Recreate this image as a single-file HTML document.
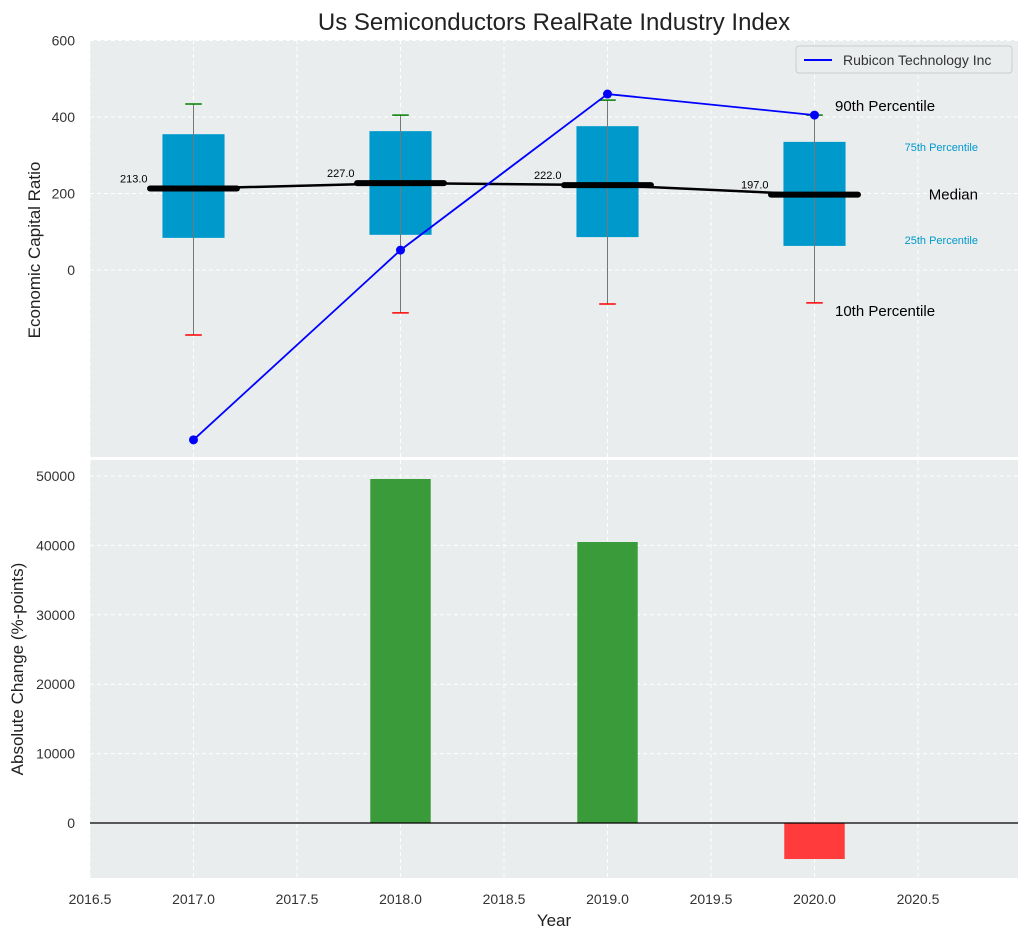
<!DOCTYPE html>
<html><head><meta charset="utf-8"><style>
body{margin:0;background:#fff;font-family:"Liberation Sans",sans-serif}
svg text{font-family:"Liberation Sans",sans-serif}
</style></head><body>
<svg id="c" width="1029" height="940"></svg>
<script>
const years=[2017,2018,2019,2020];
const p10=[-170,-112,-89,-86];
const p25=[84,92,86,63];
const medians=[213,227,222,197];
const p75=[355,363,376,335];
const p90=[434,405,444,405];
const rubicon=[-444,52,460,405];
const changes=[0,49570,40490,-5190];
const xTicks=[2016.5,2017,2017.5,2018,2018.5,2019,2019.5,2020,2020.5];
const yTopTicks=[0,200,400,600];
const yBotTicks=[0,10000,20000,30000,40000,50000];

const svg=document.getElementById('c');
const NS='http://www.w3.org/2000/svg';
function el(t,a,p){const e=document.createElementNS(NS,t);for(const k in a)e.setAttribute(k,a[k]);(p||svg).appendChild(e);return e;}
const L=90,R=1018;
const x=v=>L+(v-2016.5)*207;
const yT=v=>270-v*0.3825;
const yB=v=>823-v*0.00694;
const T0=40,T1=457,B0=460,B1=878;

let e=el('rect',{x:L,y:T0,width:R-L,height:T1-T0,fill:'#eaedee'});

e=el('rect',{x:L,y:B0,width:R-L,height:B1-B0,fill:'#eaedee'});


xTicks.forEach(t=>{
  el('line',{x1:x(t),x2:x(t),y1:T0,y2:T1,stroke:'#fff','stroke-dasharray':'4,3'});
  el('line',{x1:x(t),x2:x(t),y1:B0,y2:B1,stroke:'#fff','stroke-dasharray':'4,3'});
  const tx=el('text',{x:x(t),y:904,'text-anchor':'middle','font-size':14,fill:'#333'});tx.textContent=t.toFixed(1);
  
});
yTopTicks.forEach(t=>{
  el('line',{x1:L,x2:R,y1:yT(t),y2:yT(t),stroke:'#fff','stroke-dasharray':'4,3'});
  const tx=el('text',{x:75,y:yT(t)+5,'text-anchor':'end','font-size':14,fill:'#333'});tx.textContent=t;
  
});
yBotTicks.forEach(t=>{
  el('line',{x1:L,x2:R,y1:yB(t),y2:yB(t),stroke:'#fff','stroke-dasharray':'4,3'});
  const tx=el('text',{x:75,y:yB(t)+5,'text-anchor':'end','font-size':14,fill:'#333'});tx.textContent=t;
  
});
el('line',{x1:L,x2:R,y1:458.5,y2:458.5,stroke:'#fff','stroke-width':2});

const hw=0.15*207, mw=0.21*207, cw=0.04*207;
years.forEach((yr,i)=>{
  const cx=x(yr);
  let r=el('rect',{x:cx-hw,y:yT(p75[i]),width:2*hw,height:yT(p25[i])-yT(p75[i]),fill:'#0099cc'});
  
  el('line',{x1:cx,x2:cx,y1:yT(p90[i]),y2:yT(p10[i]),stroke:'#777','stroke-width':1});
  el('line',{x1:cx-cw,x2:cx+cw,y1:yT(p90[i]),y2:yT(p90[i]),stroke:'green','stroke-width':1.5});
  el('line',{x1:cx-cw,x2:cx+cw,y1:yT(p10[i]),y2:yT(p10[i]),stroke:'red','stroke-width':1.5});
  el('line',{x1:cx-mw,x2:cx+mw,y1:yT(medians[i]),y2:yT(medians[i]),stroke:'#000','stroke-width':6,'stroke-linecap':'round'});
  const t=el('text',{x:cx-46,y:yT(medians[i])-6,'text-anchor':'end','font-size':11,fill:'#000'});t.textContent=medians[i].toFixed(1);
  
});
let pl=el('polyline',{points:years.map((yr,i)=>x(yr)+','+yT(medians[i])).join(' '),fill:'none',stroke:'#000','stroke-width':2.5});

pl=el('polyline',{points:years.map((yr,i)=>x(yr)+','+yT(rubicon[i])).join(' '),fill:'none',stroke:'blue','stroke-width':1.8});

years.forEach((yr,i)=>{const c=el('circle',{cx:x(yr),cy:yT(rubicon[i]),r:4.5,fill:'blue'});
});

const last=3;
[['90th Percentile',yT(p90[last])-4,835,'start',15,'#000'],['75th Percentile',yT(p75[last])+9,978,'end',11,'#0099cc'],
 ['Median',yT(medians[last])+5,978,'end',15,'#000'],['25th Percentile',yT(p25[last])-2,978,'end',11,'#0099cc'],
 ['10th Percentile',yT(p10[last])+13,835,'start',15,'#000']].forEach(a=>{
  const t=el('text',{x:a[2],y:a[1],'text-anchor':a[3],'font-size':a[4],fill:a[5]});t.textContent=a[0];
  
});

const lg=el('g',{});
el('rect',{x:796,y:46,width:216,height:27,fill:'#eaedee',stroke:'#ccc',rx:3},lg);
el('line',{x1:804,x2:832,y1:60,y2:60,stroke:'blue','stroke-width':2},lg);
let lt=el('text',{x:843,y:65,'font-size':14,fill:'#333'},lg);lt.textContent='Rubicon Technology Inc';

years.forEach((yr,i)=>{
  const v=changes[i];if(v===0)return;
  const b=el('rect',{x:x(yr)-0.146*207,width:0.292*207,y:Math.min(yB(v),yB(0)),height:Math.abs(yB(v)-yB(0)),fill:v>=0?'#3a9b3a':'#ff3b3b'});
  
});
el('line',{x1:L,x2:R,y1:yB(0),y2:yB(0),stroke:'#000','stroke-width':1.2});

let t=el('text',{x:554,y:30,'text-anchor':'middle','font-size':24,fill:'#222'});t.textContent='Us Semiconductors RealRate Industry Index';

t=el('text',{x:554,y:926,'text-anchor':'middle','font-size':17,fill:'#222'});t.textContent='Year';

t=el('text',{x:40,y:250,'text-anchor':'middle','font-size':17,fill:'#222',transform:'rotate(-90 40 250)'});t.textContent='Economic Capital Ratio';

t=el('text',{x:23,y:669,'text-anchor':'middle','font-size':17,fill:'#222',transform:'rotate(-90 23 669)'});t.textContent='Absolute Change (%-points)';

</script>
</body></html>
